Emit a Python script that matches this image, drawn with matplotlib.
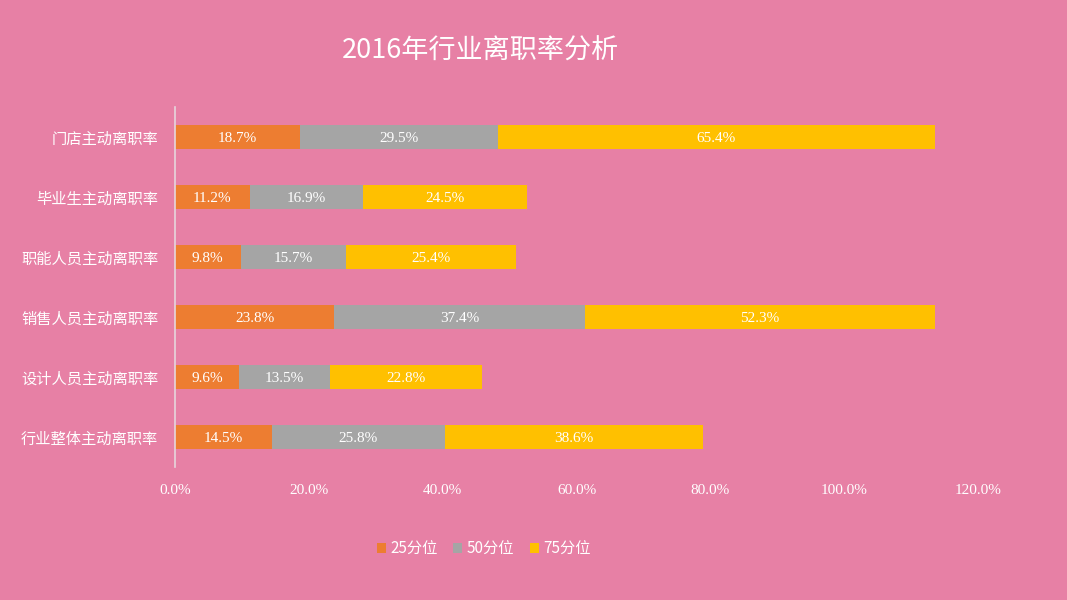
import matplotlib
matplotlib.use("Agg")
import matplotlib.pyplot as plt
import numpy as np
from matplotlib.ticker import FuncFormatter

categories = ["门店主动离职率", "毕业生主动离职率", "职能人员主动离职率",
              "销售人员主动离职率", "设计人员主动离职率", "行业整体主动离职率"]
p25 = [18.7, 11.2, 9.8, 23.8, 9.6, 14.5]
p50 = [29.5, 16.9, 15.7, 37.4, 13.5, 25.8]
p75 = [65.4, 24.5, 25.4, 52.3, 22.8, 38.6]
series_names = ["25分位", "50分位", "75分位"]
colors = ["#ED7D31", "#A5A5A5", "#FFC000"]
xticks = [0, 20, 40, 60, 80, 100, 120]

bg = "#E780A5"
cjk = ["Noto Sans CJK SC", "DejaVu Sans"]
serif = ["Liberation Serif", "DejaVu Serif"]

fig = plt.figure(figsize=(10.67, 6), dpi=100, facecolor=bg)
ax = fig.add_axes([175/1067, 1-467/600, (978-175)/1067, 0.6])
ax.set_facecolor(bg)

y = np.arange(len(categories))
left = np.zeros(len(categories))
for vals, name, c in zip([p25, p50, p75], series_names, colors):
    vals = np.array(vals)
    ax.barh(y, vals, left=left, height=0.4, color=c, label=name)
    for yi, l, v in zip(y, left, vals):
        ax.text(l + v/2, yi, f"{v:.1f}%", ha="center", va="center_baseline",
                color="white", fontsize=11, family=serif)
    left = left + vals

ax.set_ylim(len(categories)-0.5, -0.5)
ax.set_xlim(0, 120)
ax.set_xticks(xticks)
ax.xaxis.set_major_formatter(FuncFormatter(lambda v, p: f"{v:.1f}%"))
ax.set_yticks(y)
ax.set_yticklabels(categories, family=cjk, fontsize=11, color="white")
for lbl in ax.get_xticklabels():
    lbl.set_family(serif)
    lbl.set_fontsize(11)
    lbl.set_color("white")
ax.tick_params(axis="both", length=0)
ax.tick_params(axis="x", pad=12)
ax.tick_params(axis="y", pad=12)
for s in ["top", "right", "bottom"]:
    ax.spines[s].set_visible(False)
ax.spines["left"].set_color("#E6D6DC")
ax.spines["left"].set_linewidth(1.2)

fig.text(480/1067, 1-51/600, "2016年行业离职率分析", ha="center", va="center",
         fontsize=19.5, color="white", family=cjk)

fig.legend(loc="center", bbox_to_anchor=(484/1067, 1-549/600), ncol=3,
           frameon=False, prop={"family": cjk, "size": 11},
           handlelength=0.6, handleheight=0.6, handletextpad=0.3,
           columnspacing=1.0, labelcolor="white")

fig.savefig("out.png", dpi=100, facecolor=bg)
